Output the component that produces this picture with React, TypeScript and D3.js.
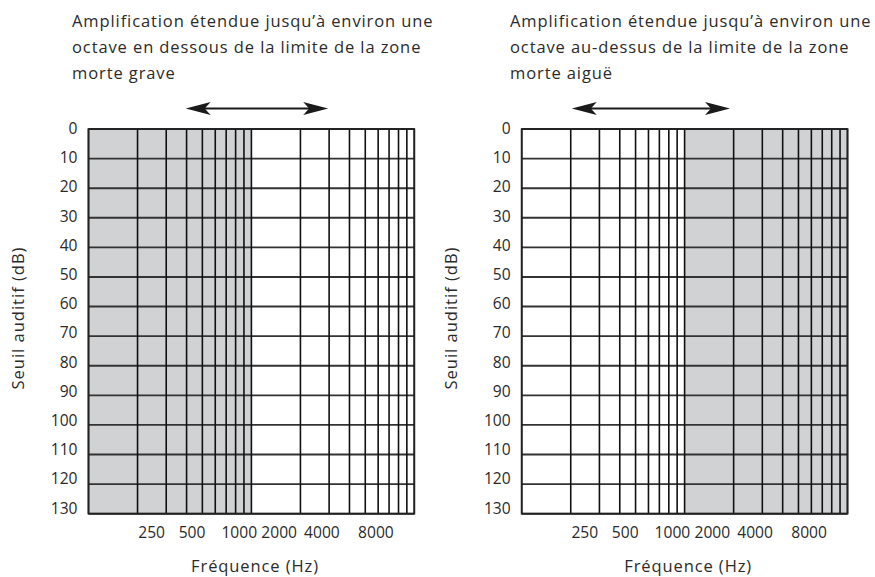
import React from 'react';
import * as d3 from 'd3';

// Hearing threshold rows (dB)
const dbTicks = [0, 10, 20, 30, 40, 50, 60, 70, 80, 90, 100, 110, 120, 130];

// Frequency labels and where they sit on the two-decade log grid
const freqLabels = ['250', '500', '1000', '2000', '4000', '8000'];
const freqLabelAnchors = [2.44, 4.32, 8.42, 14.8, 27.1, 58.1];

// Panel contents
const panelTitles = [
  ['Amplification étendue jusqu\u2019à environ une', 'octave en dessous de la limite de la zone', 'morte grave'],
  ['Amplification étendue jusqu\u2019à environ une', 'octave au-dessus de la limite de la zone', 'morte aiguë'],
];
const shadedRanges: [number, number][] = [
  [1, 10],
  [10, 100],
];
const arrowRanges: [number, number][] = [
  [3.95, 29.6],
  [2.03, 19],
];

const FONT = "'Open Sans', 'DejaVu Sans', sans-serif";
const TEXT = '#2b2b2b';

interface PanelProps {
  index: number;
  left: number;
}

const Panel: React.FC<PanelProps> = ({ index, left }) => {
  const plotW = 325.8;
  const top = 129;
  const bottom = 513.7;

  const x = d3.scaleLog().domain([1, 100]).range([left, left + plotW]);
  const y = d3.scaleLinear().domain([0, 130]).range([top, bottom]);
  // tick labels sit a little tighter than the rows
  const yLabel = d3.scaleLinear().domain([0, 130]).range([128, 507.5]);

  const gridX = x.ticks();
  const [s0, s1] = shadedRanges[index];
  const [a0, a1] = arrowRanges[index];
  const arrowY = 108.5;
  const titleX = index === 0 ? 72 : 510;

  return (
    <g>
      {panelTitles[index].map((line, i) => (
        <text
          key={i}
          x={titleX}
          y={27 + i * 26}
          fontSize={16.5}
          letterSpacing={0.9}
          fill={TEXT}
          fontFamily={FONT}
        >
          {line}
        </text>
      ))}

      {/* double arrow */}
      <line x1={x(a0) + 10} x2={x(a1) - 10} y1={arrowY} y2={arrowY} stroke="#1a1a1a" strokeWidth={2.2} />
      <path
        d={`M${x(a0)},${arrowY} L${x(a0) + 25},${arrowY - 6.5} L${x(a0) + 19},${arrowY} L${x(a0) + 25},${arrowY + 6.5} Z`}
        fill="#1a1a1a"
      />
      <path
        d={`M${x(a1)},${arrowY} L${x(a1) - 25},${arrowY - 6.5} L${x(a1) - 19},${arrowY} L${x(a1) - 25},${arrowY + 6.5} Z`}
        fill="#1a1a1a"
      />

      {/* shaded dead zone */}
      <rect x={x(s0)} y={top} width={x(s1) - x(s0)} height={bottom - top} fill="#d1d2d4" />

      {/* horizontal rows */}
      {dbTicks.map((d) => (
        <line key={d} x1={x(1)} x2={x(100)} y1={y(d)} y2={y(d)} stroke="#333" strokeWidth={1.9} />
      ))}
      {/* vertical log grid */}
      {gridX.map((f) => (
        <line key={f} x1={x(f)} x2={x(f)} y1={top} y2={bottom} stroke="#111" strokeWidth={1.6} />
      ))}
      <rect x={x(1)} y={top} width={plotW} height={bottom - top} fill="none" stroke="#222" strokeWidth={1.7} />

      {/* y tick labels */}
      {dbTicks.map((d) => (
        <text
          key={d}
          x={left - 11}
          y={yLabel(d)}
          textAnchor="end"
          dominantBaseline="central"
          fontSize={15.6}
          fill={TEXT}
          fontFamily={FONT}
        >
          {d}
        </text>
      ))}

      {/* x tick labels */}
      {freqLabels.map((lab, i) => (
        <text
          key={lab}
          x={x(freqLabelAnchors[i])}
          y={531.5}
          textAnchor="middle"
          dominantBaseline="central"
          fontSize={15.6}
          fill={TEXT}
          fontFamily={FONT}
        >
          {lab}
        </text>
      ))}

      <text
        x={left + 166.5}
        y={565}
        textAnchor="middle"
        dominantBaseline="central"
        fontSize={16.5}
        letterSpacing={0.9}
        fill={TEXT}
        fontFamily={FONT}
      >
        Fréquence (Hz)
      </text>
      <text
        transform={`translate(${left - 71},${318}) rotate(-90)`}
        textAnchor="middle"
        dominantBaseline="central"
        fontSize={16.5}
        letterSpacing={1}
        fill={TEXT}
        fontFamily={FONT}
      >
        Seuil auditif (dB)
      </text>
    </g>
  );
};

const App: React.FC = () => (
  <div style={{ position: 'absolute', left: 0, top: 0 }}>
    <svg width={875} height={577} style={{ display: 'block', background: '#fff' }}>
      <Panel index={0} left={88.5} />
      <Panel index={1} left={521.7} />
    </svg>
  </div>
);

export default App;
